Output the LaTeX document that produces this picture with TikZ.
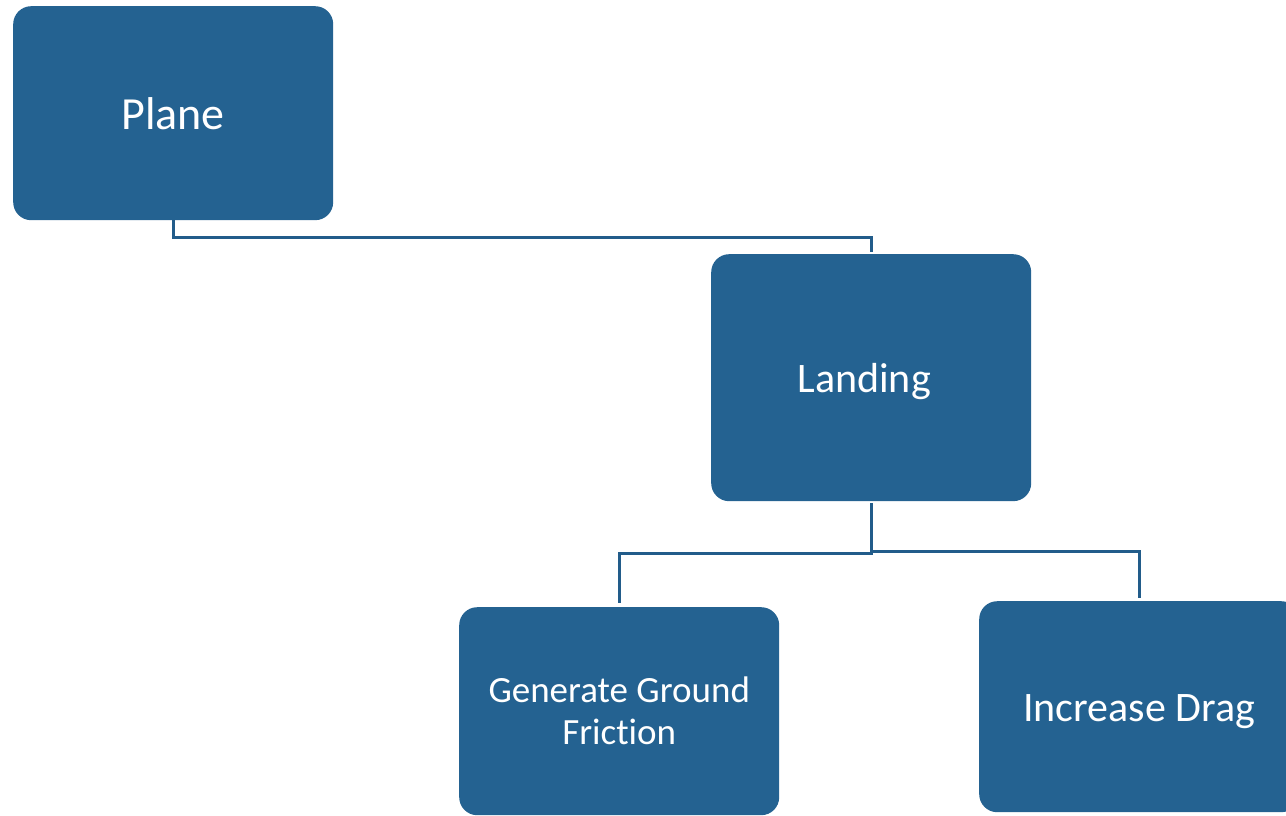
\documentclass[tikz,border=0pt]{standalone}
\usepackage{fontspec}
\setmainfont{Carlito}[Ligatures=NoCommon]
\definecolor{boxblue}{RGB}{36,98,145}
\definecolor{linkblue}{RGB}{34,92,138}
\begin{document}
\begin{tikzpicture}[x=1pt,y=-1pt,
  block/.style={draw=none,fill=boxblue,rounded corners=18pt,minimum width=320pt,
    text=white,align=center,anchor=north west,inner sep=0pt},
  link/.style={draw=linkblue,line width=3pt}]
\useasboundingbox (0,0) rectangle (1286,816);
\clip (0,0) rectangle (1286,816);
\node[block,minimum height=214pt,font=\fontsize{46}{52}\selectfont] (plane) at (13,6) {Plane};
\node[block,minimum height=247pt,font=\fontsize{42}{48}\selectfont] (landing) at (711,254)
  {\hspace*{-14pt}\raisebox{-4pt}[\height][\depth]{Landing}};
\node[block,minimum height=208pt,font=\fontsize{37}{42}\selectfont] (ggf) at (459,607)
  {Generate Ground\\Friction};
\node[block,minimum height=211pt,font=\fontsize{42}{48}\selectfont] (drag) at (979,601)
  {\raisebox{-5pt}[\height][\depth]{Increase Drag}};
\draw[link] (plane.south) -- ++(0,17) -| ([yshift=2pt]landing.north);
\draw[link] ([yshift=-2pt]landing.south) -- ++(0,50) -| ([yshift=4pt]ggf.north);
\draw[link] ([yshift=-2pt]landing.south) -- ++(0,48) -| ([yshift=3pt]drag.north);
\end{tikzpicture}
\end{document}
